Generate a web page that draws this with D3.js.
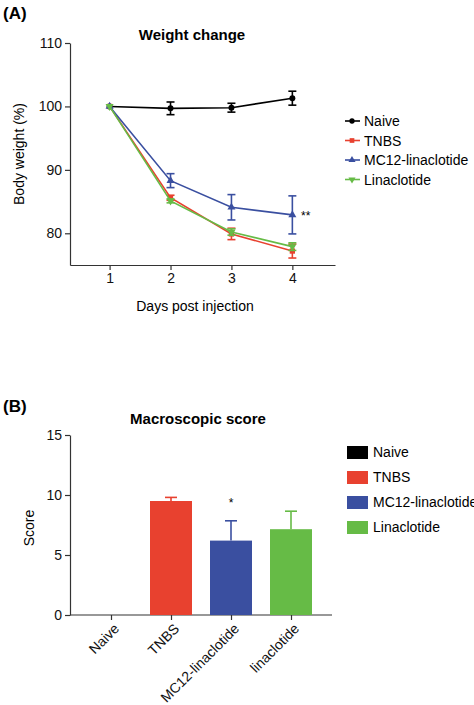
<!DOCTYPE html>
<html><head><meta charset="utf-8">
<script src="https://cdn.jsdelivr.net/npm/d3@7"></script>
<style>body{margin:0;background:#fff}text{font-family:Arial,"Liberation Sans",sans-serif}</style>
</head><body><svg id="c" width="474" height="705"></svg>
<script>
var days = [1, 2, 3, 4];
var groups = ["Naive", "TNBS", "MC12-linaclotide", "Linaclotide"];
var colors = ["#000000", "#e8412f", "#3a4fa0", "#66bb46"];
var weightMean = [[100, 99.7, 99.8, 101.3], [100, 85.6, 79.9, 77.2], [100, 88.3, 84.1, 82.9], [100, 85.1, 80.2, 77.9]];
var weightErr = [[0, 1.0, 0.7, 1.1], [0, 0.4, 0.9, 1.1], [0, 1.1, 2.0, 3.0], [0, 0.3, 0.5, 0.6]];
var barLabels = ["Naive", "TNBS", "MC12-linaclotide", "linaclotide"];
var scoreMean = [0, 9.5, 6.2, 7.15];
var scoreErr = [0, 0.3, 1.65, 1.5];

var svg = d3.select("#c");

// ---- (A) weight change
var gA = svg.append("g");
var x = d3.scaleLinear().domain([0.35, 4.7]).range([70, 335]);
var y = d3.scaleLinear().domain([75, 110]).range([265, 43]);
gA.append("g").attr("transform", "translate(0,265)")
  .call(d3.axisBottom(x).tickValues(days).tickFormat(d3.format("d")).tickSize(5).tickSizeOuter(0));
gA.append("g").attr("transform", "translate(70,0)")
  .call(d3.axisLeft(y).tickValues([80, 90, 100, 110]).tickSize(5).tickSizeOuter(0));
gA.selectAll(".domain,.tick line").attr("stroke", "#333").attr("stroke-width", 1.2);
gA.selectAll(".tick text").attr("font-size", 14).attr("fill", "#111");
gA.append("text").attr("x", 3).attr("y", 19).attr("font-size", 17).attr("font-weight", "bold").text("(A)");
gA.append("text").attr("x", 192).attr("y", 40).attr("text-anchor", "middle").attr("font-size", 15).attr("font-weight", "bold").text("Weight change");
gA.append("text").attr("x", 195).attr("y", 311).attr("text-anchor", "middle").attr("font-size", 14).text("Days post injection");
gA.append("text").attr("transform", "translate(24,154) rotate(-90)").attr("text-anchor", "middle").attr("font-size", 14).text("Body weight (%)");

var line = d3.line().x(function(d, i) { return x(days[i]); }).y(function(d) { return y(d); });
var sym = [d3.symbolCircle, d3.symbolSquare, d3.symbolTriangle, d3.symbolTriangle];
groups.forEach(function(gname, k) {
  var c = colors[k];
  var g = gA.append("g");
  g.append("path").attr("d", line(weightMean[k])).attr("fill", "none").attr("stroke", c).attr("stroke-width", 1.6);
  weightMean[k].forEach(function(v, i) {
    var e = weightErr[k][i];
    if (e > 0) {
      var xx = x(days[i]);
      g.append("line").attr("x1", xx).attr("x2", xx).attr("y1", y(v - e)).attr("y2", y(v + e)).attr("stroke", c).attr("stroke-width", 1.6);
      [v - e, v + e].forEach(function(t) {
        g.append("line").attr("x1", xx - 4).attr("x2", xx + 4).attr("y1", y(t)).attr("y2", y(t)).attr("stroke", c).attr("stroke-width", 1.6);
      });
    }
    g.append("path").attr("d", d3.symbol(sym[k], 28)()).attr("fill", c)
      .attr("transform", "translate(" + x(days[i]) + "," + y(v) + ")" + (k === 3 ? " rotate(180)" : ""));
  });
  var ly = 121 + k * 19.5;
  g.append("line").attr("x1", 345).attr("x2", 360).attr("y1", ly).attr("y2", ly).attr("stroke", c).attr("stroke-width", 1.6);
  g.append("path").attr("d", d3.symbol(sym[k], 22)()).attr("fill", c)
    .attr("transform", "translate(352," + ly + ")" + (k === 3 ? " rotate(180)" : ""));
  g.append("text").attr("x", 364).attr("y", ly + 5).attr("font-size", 14).text(gname);
});
gA.append("text").attr("x", 301).attr("y", 220).attr("font-size", 12).text("**");

// ---- (B) macroscopic score
var gB = svg.append("g");
var cx = d3.scalePoint().domain(barLabels).range([111, 291]);
var yb = d3.scaleLinear().domain([0, 15]).range([615, 435]);
gB.append("g").attr("transform", "translate(0,615)")
  .call(d3.axisBottom(cx).tickSize(5).tickSizeOuter(0))
  .call(function(a) {
    a.select(".domain").attr("d", "M70,0H332");
    a.selectAll(".tick text").attr("transform", "rotate(-45)").attr("text-anchor", "end").attr("dx", "-0.3em").attr("dy", "0.6em");
  });
gB.append("g").attr("transform", "translate(70,0)")
  .call(d3.axisLeft(yb).tickValues([0, 5, 10, 15]).tickSize(5).tickSizeOuter(0));
gB.selectAll(".domain,.tick line").attr("stroke", "#333").attr("stroke-width", 1.2);
gB.selectAll(".tick text").attr("font-size", 14).attr("fill", "#111");
gB.append("text").attr("x", 3).attr("y", 412).attr("font-size", 17).attr("font-weight", "bold").text("(B)");
gB.append("text").attr("x", 198).attr("y", 424).attr("text-anchor", "middle").attr("font-size", 15).attr("font-weight", "bold").text("Macroscopic score");
gB.append("text").attr("transform", "translate(34,528) rotate(-90)").attr("text-anchor", "middle").attr("font-size", 14).text("Score");

barLabels.forEach(function(b, i) {
  var c = colors[i], m = scoreMean[i], e = scoreErr[i];
  if (m <= 0) return;
  gB.append("rect").attr("x", cx(b) - 21).attr("width", 42).attr("y", yb(m)).attr("height", 615 - yb(m)).attr("fill", c);
  gB.append("line").attr("x1", cx(b)).attr("x2", cx(b)).attr("y1", yb(m)).attr("y2", yb(m + e)).attr("stroke", c).attr("stroke-width", 1.6);
  gB.append("line").attr("x1", cx(b) - 6).attr("x2", cx(b) + 6).attr("y1", yb(m + e)).attr("y2", yb(m + e)).attr("stroke", c).attr("stroke-width", 1.6);
});
gB.append("text").attr("x", cx("MC12-linaclotide")).attr("y", 507).attr("text-anchor", "middle").attr("font-size", 12).text("*");
groups.forEach(function(gname, k) {
  var ly = 452 + k * 25;
  gB.append("rect").attr("x", 347).attr("y", ly - 6).attr("width", 21).attr("height", 13).attr("fill", colors[k]);
  gB.append("text").attr("x", 373).attr("y", ly + 5).attr("font-size", 14).text(gname);
});
</script></body></html>
